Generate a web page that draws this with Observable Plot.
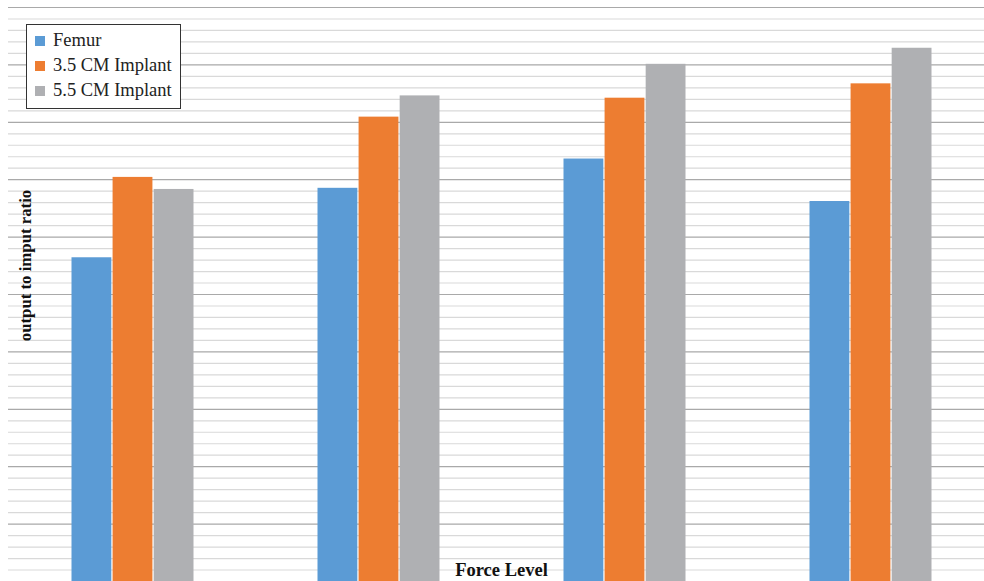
<!DOCTYPE html>
<html>
<head>
<meta charset="utf-8">
<script src="https://cdn.jsdelivr.net/npm/d3@7"></script>
<script src="https://cdn.jsdelivr.net/npm/@observablehq/plot@0.6"></script>
<style>
  html, body { margin: 0; padding: 0; background: #fff; }
  #wrap { position: relative; width: 984px; height: 581px; overflow: hidden; }
  #legend {
    position: absolute; left: 26px; top: 24px; width: 155px; height: 85px;
    border: 1.3px solid #333; background: #fff; box-sizing: border-box;
    font-family: "Liberation Serif", "Times New Roman", serif; font-size: 18.5px; color: #222;
    padding-top: 3px;
  }
  .item { display: flex; align-items: center; height: 25px; white-space: nowrap; }
  .sw { width: 10px; height: 10px; margin-left: 8px; margin-right: 8px; flex: none; }
</style>
</head>
<body>
<div id="wrap"></div>
<script>
const categories = ["Level 1", "Level 2", "Level 3", "Level 4"];
const seriesNames = ["Femur", "3.5 CM Implant", "5.5 CM Implant"];
const femur     = [28.2, 34.25, 36.8, 33.1];
const implant35 = [35.2, 40.45, 42.1, 43.35];
const implant55 = [34.15, 42.3, 45.05, 46.45];
const colors = ["#5b9bd5", "#ed7d31", "#afb0b3"];
const gridTicks = d3.range(0, 51, 1);
const yLabel = "output to imput ratio";
const xLabel = "Force Level";

const seriesValues = [femur, implant35, implant55];
const W = 984, H = 581;
const xRange = [8, 994];
const bandScale = d3.scaleBand().domain(categories).range(xRange).paddingInner(0.5).paddingOuter(0.25);
const bw = bandScale.bandwidth();
const sub = bw / seriesNames.length;

const barMarks = seriesNames.map((name, i) => {
  const rows = categories.map((c, j) => ({category: c, series: name, value: seriesValues[i][j]}));
  return Plot.barY(rows, {
    x: "category", y: "value", fill: colors[i],
    insetLeft: sub * i + 0.5,
    insetRight: sub * (seriesNames.length - 1 - i) + 0.5
  });
});

const plot = Plot.plot({
  width: W, height: H,
  marginLeft: 8, marginRight: 0, marginTop: 7, marginBottom: 0,
  style: {background: "white", fontFamily: "'Liberation Serif', 'Times New Roman', serif"},
  x: {domain: categories, range: xRange, paddingInner: 0.5, paddingOuter: 0.25, axis: null},
  y: {domain: [0, 50], axis: null},
  marks: [
    Plot.ruleY(gridTicks, {stroke: d => d % 5 === 0 ? "#a9a9a9" : "#d9d9d9", strokeWidth: 1.2}),
    ...barMarks,
    Plot.text([yLabel], {frameAnchor: "left", textAnchor: "middle", dx: 17, dy: -29, rotate: -90, fontSize: 16.8, fontWeight: "bold", fill: "#111", text: d => d}),
    Plot.text([xLabel], {frameAnchor: "bottom", lineAnchor: "bottom", dx: 5, dy: -6, fontSize: 18.5, fontWeight: "bold", fill: "#111", text: d => d})
  ]
});
const wrap = document.getElementById("wrap");
wrap.appendChild(plot);

const legend = document.createElement("div");
legend.id = "legend";
seriesNames.forEach((n, i) => {
  const it = document.createElement("div");
  it.className = "item";
  const sw = document.createElement("span");
  sw.className = "sw"; sw.style.background = colors[i];
  const tx = document.createElement("span");
  tx.textContent = n;
  it.appendChild(sw); it.appendChild(tx);
  legend.appendChild(it);
});
wrap.appendChild(legend);
</script>
</body>
</html>
